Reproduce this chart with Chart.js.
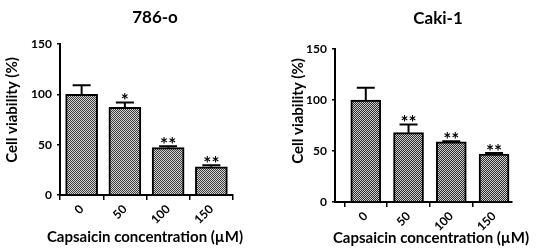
<!DOCTYPE html>
<html>
<head>
<meta charset="utf-8">
<script src="https://cdn.jsdelivr.net/npm/chart.js@4.4.1/dist/chart.umd.min.js"></script>
<style>
  html, body { margin: 0; padding: 0; background: #fff; }
  .row { display: flex; width: 538px; height: 249px; }
  .panel { position: relative; width: 269px; height: 249px; }
</style>
</head>
<body>
<div class="row">
  <div class="panel"><canvas id="chart-786o" width="269" height="249"></canvas></div>
  <div class="panel"><canvas id="chart-caki1" width="269" height="249"></canvas></div>
</div>
<script>
// Capsaicin doses (µM) and cell viability (%)
const doses = ['0', '50', '100', '150'];
const yTicks = [0, 50, 100, 150];

const viab786 = [100, 87, 47, 28];
const err786 = [9, 5, 1.5, 1.5];
const sig786 = ['', '*', '**', '**'];

const viabCaki = [100, 68, 59, 47];
const errCaki = [12, 8, 0.6, 1];
const sigCaki = ['', '**', '**', '**'];

const FONT = 'Lato, "Open Sans", sans-serif';
const X_CAPTION = 'Capsaicin concentration (µM)';
const Y_CAPTION = 'Cell viability (%)';

// checker fill like the printed halftone bars
function makePattern(dark, light) {
    const c = document.createElement('canvas');
    c.width = 2;
    c.height = 2;
    const g = c.getContext('2d');
    g.fillStyle = light;
    g.fillRect(0, 0, 2, 2);
    g.fillStyle = dark;
    g.fillRect(0, 0, 1, 1);
    g.fillRect(1, 1, 1, 1);
    return g.createPattern(c, 'repeat');
}

// error bars + significance stars, drawn from the data arrays
const errorBars = {
    id: 'errorBars',
    afterDatasetsDraw(chart, args, opts) {
        const ctx = chart.ctx;
        const meta = chart.getDatasetMeta(0);
        const yScale = chart.scales.y;
        ctx.save();
        ctx.strokeStyle = '#000';
        ctx.lineWidth = 2;
        meta.data.forEach(function (bar, i) {
            const top = yScale.getPixelForValue(opts.values[i] + opts.errors[i]);
            ctx.beginPath();
            ctx.moveTo(bar.x, bar.y);
            ctx.lineTo(bar.x, top);
            ctx.moveTo(bar.x - 9, top);
            ctx.lineTo(bar.x + 9, top);
            ctx.stroke();
            if (opts.stars[i]) {
                ctx.fillStyle = '#000';
                ctx.font = 'bold 19px ' + FONT;
                ctx.textAlign = 'center';
                ctx.textBaseline = 'alphabetic';
                ctx.fillText(opts.stars[i], bar.x, top + 5);
            }
        });
        ctx.restore();
    }
};

// panel title and axis captions (x caption is wider than the plot, so not the scale title)
const captions = {
    id: 'captions',
    afterDraw(chart, args, opts) {
        const ctx = chart.ctx;
        ctx.save();
        ctx.fillStyle = '#000';
        ctx.textAlign = 'center';
        ctx.textBaseline = 'middle';
        ctx.font = 'bold 17px ' + FONT;
        ctx.fillText(opts.title, opts.titleX, opts.titleY);
        ctx.font = 'bold 15px ' + FONT;
        ctx.fillText(X_CAPTION, opts.xCapX, opts.xCapY);
        ctx.translate(opts.yCapX, opts.yCapY);
        ctx.rotate(-Math.PI / 2);
        ctx.font = 'bold 15px ' + FONT;
        ctx.fillText(Y_CAPTION, 0, 0);
        ctx.restore();
    }
};

function buildChart(id, cfg) {
    const ctx = document.getElementById(id);
    return new Chart(ctx, {
        type: 'bar',
        data: {
            datasets: [{
                data: cfg.values.map(function (v, i) { return { x: i, y: v }; }),
                backgroundColor: cfg.fill,
                borderColor: '#000',
                borderWidth: 2,
                barThickness: cfg.barWidth
            }]
        },
        options: {
            responsive: false,
            animation: false,
            devicePixelRatio: 1,
            layout: { padding: { top: cfg.top, right: cfg.right, left: 0, bottom: 0 } },
            plugins: {
                legend: { display: false },
                tooltip: { enabled: false },
                errorBars: { values: cfg.values, errors: cfg.errors, stars: cfg.stars },
                captions: cfg.captions
            },
            scales: {
                x: {
                    type: 'linear',
                    offset: false,
                    min: cfg.xMin,
                    max: cfg.xMax,
                    afterBuildTicks: function (axis) {
                        axis.ticks = doses.map(function (d, i) { return { value: i }; });
                    },
                    afterFit: function (scale) {
                        scale.height = cfg.xHeight;
                        // rotated labels must not push the plot area in
                        scale.paddingLeft = 0;
                        scale.paddingRight = 0;
                    },
                    ticks: {
                        minRotation: 45,
                        maxRotation: 45,
                        padding: 2,
                        color: '#000',
                        font: { family: FONT, size: 12, weight: 'bold' },
                        callback: function (v) { return doses[v]; }
                    },
                    grid: { drawOnChartArea: false, drawTicks: true, tickLength: 5, color: '#000', lineWidth: 1.5 },
                    border: { display: true, color: '#000', width: 2 }
                },
                y: {
                    min: 0,
                    max: 150,
                    afterBuildTicks: function (axis) {
                        axis.ticks = yTicks.map(function (v) { return { value: v }; });
                    },
                    afterFit: function (scale) { scale.width = cfg.yWidth; },
                    ticks: {
                        padding: 5,
                        color: '#000',
                        font: { family: FONT, size: 12, weight: 'bold' }
                    },
                    grid: { drawOnChartArea: false, drawTicks: true, tickLength: 3, color: '#000', lineWidth: 1.5 },
                    border: { display: true, color: '#000', width: 2 }
                }
            }
        },
        plugins: [errorBars, captions]
    });
}

buildChart('chart-786o', {
    values: viab786, errors: err786, stars: sig786,
    fill: makePattern('#3c3c3c', '#d4d4d4'),
    barWidth: 32,
    top: 44, right: 36, xHeight: 54, yWidth: 60,
    xMin: -0.5, xMax: 3.5,
    captions: { title: '786-o', titleX: 155, titleY: 18, xCapX: 145, xCapY: 237, yCapX: 12, yCapY: 110 }
});

buildChart('chart-caki1', {
    values: viabCaki, errors: errCaki, stars: sigCaki,
    fill: makePattern('#2c2c2c', '#cfcfcf'),
    barWidth: 30,
    top: 49, right: 26, xHeight: 47, yWidth: 66,
    xMin: -0.72, xMax: 3.42,
    captions: { title: 'Caki-1', titleX: 169, titleY: 19, xCapX: 162, xCapY: 238, yCapX: 29, yCapY: 111 }
});
</script>
</body>
</html>
